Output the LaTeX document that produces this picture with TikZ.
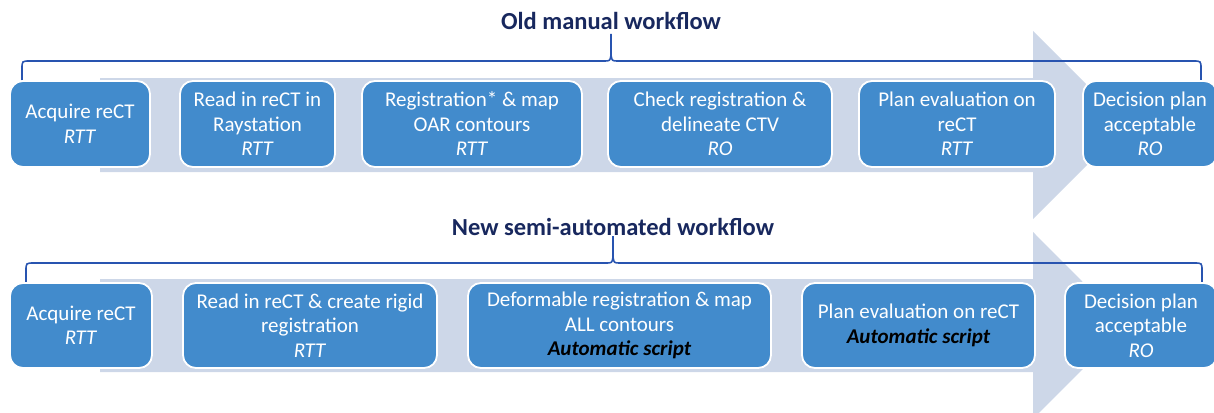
\documentclass[tikz,border=0pt]{standalone}
\usepackage{fontspec}
\setmainfont{Carlito}
\definecolor{stepfill}{RGB}{66,139,204}
\definecolor{bandfill}{RGB}{205,215,232}
\definecolor{titlenavy}{RGB}{24,40,94}
\definecolor{bracecol}{RGB}{40,84,176}
\tikzset{
  stepbox/.style={draw=white, line width=1.8pt, fill=stepfill, rounded corners=13pt,
    text=white, align=center, inner sep=2pt,
    font=\fontsize{21}{24.5}\selectfont},
  band/.style={fill=bandfill, draw=none},
  brace/.style={draw=bracecol, line width=1.6pt, line join=round},
  flowtitle/.style={text=titlenavy, font=\bfseries\fontsize{24.5}{28}\selectfont}
}
\newcommand{\who}[1]{\textit{#1}}
\newcommand{\auto}[1]{\textcolor{black}{\textbf{\textit{#1}}}}
\begin{document}
\begin{tikzpicture}[x=1pt,y=-1pt]
\useasboundingbox (0,0) rectangle (1214,412);
\clip (0,0) rectangle (1214,412);

% background arrows
\fill[band] (100,78) -- (1033,78) -- (1033,31) -- (1127,125) -- (1033,219)
  -- (1033,172) -- (100,172) -- cycle;
\fill[band] (100,279) -- (1033,279) -- (1033,232) -- (1126,325.5) -- (1033,419)
  -- (1033,372) -- (100,372) -- cycle;

% titles
\node[flowtitle] (t1) at (611,21) {Old manual workflow};
\node[flowtitle] (t2) at (613,227) {New semi-automated workflow};

% braces
\coordinate (b1l) at (22,80);
\coordinate (b1r) at (1201,80);
\coordinate (b1m) at (611,34);
\draw[brace] (b1l) -- (22,69) .. controls (22,61) .. (30,61) -- (604,61)
  .. controls (610,61) .. (611,55) -- (b1m);
\draw[brace] (b1r) -- (1201,69) .. controls (1201,61) .. (1193,61) -- (618,61)
  .. controls (612,61) .. (611,55);

\coordinate (b2l) at (26,282);
\coordinate (b2r) at (1202,282);
\coordinate (b2m) at (613,236);
\draw[brace] (b2l) -- (26,271) .. controls (26,263) .. (34,263) -- (606,263)
  .. controls (612,263) .. (613,257) -- (b2m);
\draw[brace] (b2r) -- (1202,271) .. controls (1202,263) .. (1194,263) -- (620,263)
  .. controls (614,263) .. (613,257);

% old manual workflow steps
\node[stepbox, minimum width=140, minimum height=86] (o1) at (80,124)
  {Acquire reCT\\\who{RTT}};
\node[stepbox, minimum width=155, minimum height=86] (o2) at (257.5,124)
  {Read in reCT in\\Raystation\\\who{RTT}};
\node[stepbox, minimum width=220, minimum height=86] (o3) at (472,124)
  {Registration* \& map\\OAR contours\\\who{RTT}};
\node[stepbox, minimum width=224, minimum height=86] (o4) at (720,124)
  {Check registration \&\\delineate CTV\\\who{RO}};
\node[stepbox, minimum width=196, minimum height=86] (o5) at (957,124)
  {Plan evaluation on\\reCT\\\who{RTT}};
\node[stepbox, minimum width=134, minimum height=86] (o6) at (1150,124)
  {Decision plan\\acceptable\\\who{RO}};

% new semi-automated workflow steps
\node[stepbox, minimum width=142, minimum height=85] (n1) at (81,325.5)
  {Acquire reCT\\\who{RTT}};
\node[stepbox, minimum width=254, minimum height=85] (n2) at (310,325.5)
  {Read in reCT \& create rigid\\registration\\\who{RTT}};
\node[stepbox, minimum width=303, minimum height=85] (n3) at (619.5,325.5)
  {Deformable registration \& map\\ALL contours\\\auto{Automatic script}};
\node[stepbox, minimum width=233, minimum height=85] (n4) at (918.5,325.5)
  {Plan evaluation on reCT\\\auto{Automatic script}};
\node[stepbox, minimum width=152, minimum height=85] (n5) at (1141,325.5)
  {Decision plan\\acceptable\\\who{RO}};
\end{tikzpicture}
\end{document}
